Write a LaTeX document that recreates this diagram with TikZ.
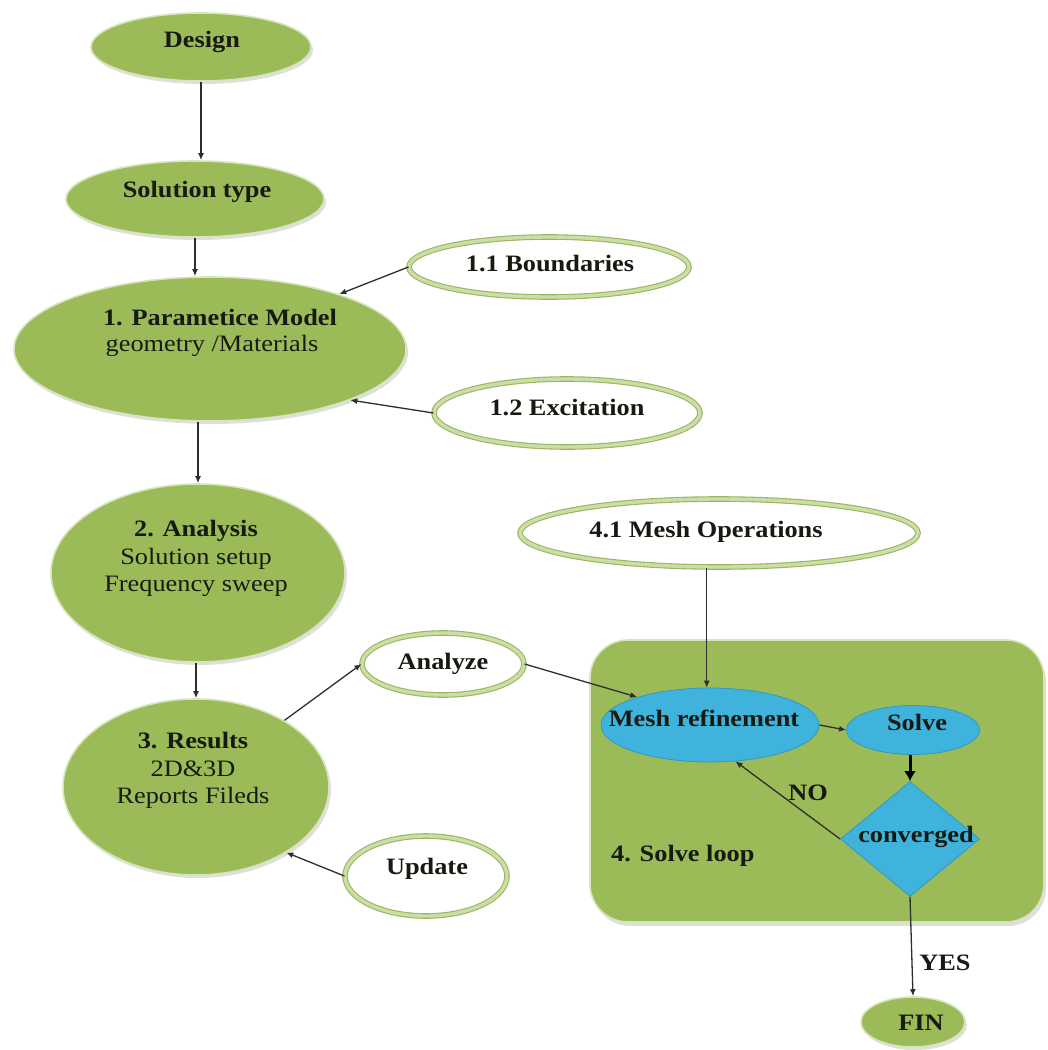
\documentclass[tikz,border=0pt]{standalone}
\usepackage{fontspec}
\setmainfont{Liberation Serif}[FakeStretch=1.12]
\usetikzlibrary{shapes.geometric,arrows.meta,shadows}

\definecolor{leaf}{HTML}{9BBB59}
\definecolor{leafedge}{HTML}{D7E4BC}
\definecolor{ringdark}{HTML}{9AB663}
\definecolor{ringlight}{HTML}{CCDDA6}
\definecolor{aqua}{HTML}{40B3DD}
\definecolor{aquaedge}{HTML}{2E9AC2}
\definecolor{ink}{HTML}{161A10}
\definecolor{wire}{HTML}{2E2E2E}

\tikzset{
  greenell/.style={ellipse, fill=leaf, draw=leafedge, line width=1.6pt, inner sep=0pt,
    drop shadow={shadow xshift=2pt, shadow yshift=-3pt, opacity=0.25}},
  ringell/.style={ellipse, fill=white, draw=ringdark, double=ringlight,
    double distance=3.4pt, line width=1.1pt, inner sep=0pt},
  aquaell/.style={ellipse, fill=aqua, draw=aquaedge, line width=0.8pt, inner sep=0pt},
  loopbox/.style={rectangle, rounded corners=38pt, fill=leaf, draw=leafedge,
    line width=1.6pt, inner sep=0pt,
    drop shadow={shadow xshift=2pt, shadow yshift=-4pt, opacity=0.25}},
  txt/.style={anchor=base, inner sep=0pt, text=ink,
    font=\fontsize{23.5}{27}\selectfont},
  btxt/.style={txt, font=\fontsize{23.5}{27}\selectfont\bfseries},
  arr/.style={draw=wire, line width=1.3pt, -{Latex[length=7pt,width=6pt]}},
  thickarr/.style={draw=black, line width=3pt, -{Latex[length=10pt,width=12pt]}},
}

\begin{document}
\begin{tikzpicture}[x=1pt,y=-1pt]
\useasboundingbox (0,0) rectangle (1048,1050);

% solve loop container
\node[loopbox, minimum width=454pt, minimum height=282pt] (loop) at (817,781) {};

% main chain
\node[greenell, minimum width=220pt, minimum height=68pt]  (design)   at (201,47)  {};
\node[greenell, minimum width=258pt, minimum height=76pt]  (soltype)  at (195,199) {};
\node[greenell, minimum width=392pt, minimum height=144pt] (param)    at (210,349) {};
\node[greenell, minimum width=294pt, minimum height=178pt] (analysis) at (198,573) {};
\node[greenell, minimum width=266pt, minimum height=176pt] (results)  at (196,787) {};
\node[greenell, minimum width=104pt, minimum height=50pt]  (fin)      at (913,1022) {};

% side inputs
\node[ringell, minimum width=280pt, minimum height=60pt]  (bound)   at (549,267) {};
\node[ringell, minimum width=266pt, minimum height=68pt]  (excit)   at (567,413) {};
\node[ringell, minimum width=162pt, minimum height=62pt]  (analyze) at (443,664) {};
\node[ringell, minimum width=162pt, minimum height=80pt]  (update)  at (426,876) {};
\node[ringell, minimum width=398pt, minimum height=68pt]  (meshops) at (719,533) {};

% solve loop contents
\node[aquaell, minimum width=218pt, minimum height=74pt] (meshref) at (710,725) {};
\node[aquaell, minimum width=133pt, minimum height=49pt] (solve)   at (913,730) {};
\node[diamond, fill=aqua, draw=aquaedge, line width=0.8pt, inner sep=0pt,
      minimum width=139pt, minimum height=115pt] (conv) at (910,839) {};

% texts
\node[btxt] (design-t)  at (202,47)  {Design};
\node[btxt] (soltype-t) at (197,197) {Solution type};
\node[btxt] (param-t1)  at (220,325) {1. Parametice Model};
\node[txt]  (param-t2)  at (212,351) {geometry /Materials};
\node[btxt] (bound-t)   at (550,271) {1.1 Boundaries};
\node[btxt] (excit-t)   at (567,415) {1.2 Excitation};
\node[btxt] (analysis-t1) at (196,536) {2. Analysis};
\node[txt]  (analysis-t2) at (196,564) {Solution setup};
\node[txt]  (analysis-t3) at (196,591) {Frequency sweep};
\node[btxt] (results-t1) at (193,748) {3. Results};
\node[txt]  (results-t2) at (193,776) {2D\&3D};
\node[txt]  (results-t3) at (193,803) {Reports Fileds};
\node[btxt] (analyze-t) at (443,669) {Analyze};
\node[btxt] (update-t)  at (427,874) {Update};
\node[btxt] (meshops-t) at (706,537) {4.1 Mesh Operations};
\node[btxt] (meshref-t) at (704,726) {Mesh refinement};
\node[btxt] (solve-t)   at (917,730) {Solve};
\node[btxt] (conv-t)    at (916,842) {converged};
\node[btxt, anchor=base west] (loop-t) at (611,861) {4. Solve loop};
\node[btxt] (fin-t)     at (921,1030) {FIN};

% connectors
\draw[arr] (design.south) -- (design.south |- soltype.north);
\draw[arr] (soltype.south) -- (soltype.south |- param.north);
\draw[arr] (param.south -| analysis.north) -- (analysis.north);
\draw[arr] (analysis.south -| results.north) -- (results.north);
\draw[arr] (bound.west) -- (param.23);
\draw[arr] (excit.west) -- (param.-20);
\draw[arr] (results.37) -- (analyze.west);
\draw[arr] (update.west) -- (results.-36);
\draw[arr] (analyze.east) -- (meshref.159);
\draw[arr] (meshops.south -| meshref.95) -- (meshref.95);
\draw[arr] (meshref.east) -- (solve.west);
\draw[thickarr] (solve.south -| conv.north) -- (conv.north);
\draw[arr] (conv.west) -- (meshref.-55);
\draw[arr] (conv.south) -- (fin.north);

% branch labels
\node[btxt] (no-t)  at (808,800) {NO};
\node[btxt] (yes-t) at (945,970) {YES};
\end{tikzpicture}
\end{document}
